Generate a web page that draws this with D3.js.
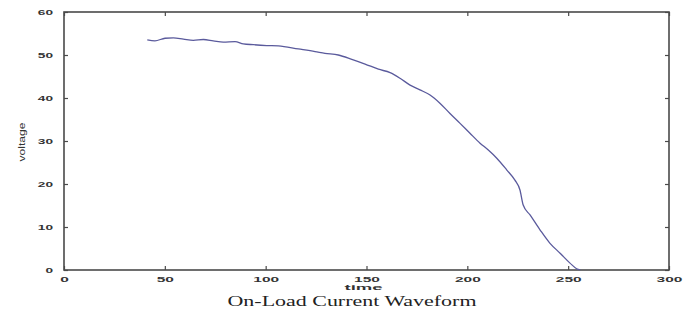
<!DOCTYPE html>
<html>
<head>
<meta charset="utf-8">
<script src="https://cdn.jsdelivr.net/npm/d3@7/dist/d3.min.js"></script>
<style>
  html, body { margin: 0; padding: 0; background: #fff; }
  svg { display: block; }
</style>
</head>
<body>
<svg id="chart" width="699" height="328"></svg>
<script>
// Measured waveform: time samples and voltage readings
const timeValues = [41.3, 45.1, 50.1, 54.2, 59.2, 64.1, 69.1, 74.0, 79.0, 84.8,
  88.9, 93.9, 100.5, 106.3, 116.2, 124.5, 129.4, 136.0, 142.7, 149.3, 155.9,
  161.7, 166.6, 171.6, 176.5, 181.5, 186.4, 191.4, 196.4, 201.3, 206.3, 210.4,
  214.6, 219.5, 223.6, 226.1, 227.7, 231.1, 236.1, 241.0, 246.0, 250.9, 254.2, 256.0];
const voltageValues = [53.5, 53.3, 53.9, 54.0, 53.7, 53.4, 53.6, 53.3, 53.0, 53.1,
  52.6, 52.4, 52.2, 52.1, 51.4, 50.8, 50.4, 50.0, 49.0, 47.9, 46.7,
  45.9, 44.6, 43.0, 41.9, 40.7, 38.8, 36.4, 34.1, 31.8, 29.5, 27.9,
  26.0, 23.3, 20.9, 18.6, 15.1, 12.8, 9.3, 6.2, 3.9, 1.6, 0.3, 0];

const xTicks = [0, 50, 100, 150, 200, 250, 300];
const yTicks = [0, 10, 20, 30, 40, 50, 60];

const xLabel = "time";
const yLabel = "voltage";
const caption = "On-Load Current Waveform";

const svg = d3.select("#chart");
const plotLeft = 64, plotRight = 669, plotTop = 12, plotBottom = 270;

const x = d3.scaleLinear().domain([0, 300]).range([plotLeft, plotRight]);
const y = d3.scaleLinear().domain([0, 60]).range([plotBottom, plotTop]);

const axisColor = "#4a4a4a";
const tickFont = "Arial, 'Liberation Sans', sans-serif";

// Frame around the plotting area
svg.append("rect")
  .attr("x", plotLeft).attr("y", plotTop)
  .attr("width", plotRight - plotLeft).attr("height", plotBottom - plotTop)
  .attr("fill", "none").attr("stroke", axisColor).attr("stroke-width", 1.6);

// Inward ticks on all four sides
const tickLen = 4;
function styleAxis(g) {
  g.select(".domain").remove();
  g.selectAll(".tick line").attr("stroke", axisColor).attr("stroke-width", 1.2);
}

const gxB = svg.append("g").attr("transform", `translate(0,${plotBottom})`)
  .call(d3.axisBottom(x).tickValues(xTicks).tickSizeInner(-tickLen).tickSizeOuter(0).tickPadding(0).tickFormat(d3.format("d")));
styleAxis(gxB);
gxB.selectAll(".tick text")
  .attr("y", 12).attr("dy", 0)
  .attr("font-family", tickFont).attr("font-weight", "bold").attr("font-size", 8)
  .attr("fill", "#333")
  .attr("textLength", d => String(d).length * 8.6)
  .attr("lengthAdjust", "spacingAndGlyphs");

const gxT = svg.append("g").attr("transform", `translate(0,${plotTop})`)
  .call(d3.axisTop(x).tickValues(xTicks).tickSizeInner(-tickLen).tickSizeOuter(0).tickFormat(""));
styleAxis(gxT);

const gyL = svg.append("g").attr("transform", `translate(${plotLeft},0)`)
  .call(d3.axisLeft(y).tickValues(yTicks).tickSizeInner(-tickLen).tickSizeOuter(0).tickPadding(0).tickFormat(d3.format("d")));
styleAxis(gyL);
gyL.selectAll(".tick text")
  .attr("x", -11).attr("dy", "0.36em")
  .attr("text-anchor", "end")
  .attr("font-family", tickFont).attr("font-weight", "bold").attr("font-size", 8)
  .attr("fill", "#333")
  .attr("textLength", d => String(d).length * 7.6)
  .attr("lengthAdjust", "spacingAndGlyphs");

const gyR = svg.append("g").attr("transform", `translate(${plotRight},0)`)
  .call(d3.axisRight(y).tickValues(yTicks).tickSizeInner(-tickLen).tickSizeOuter(0).tickFormat(""));
styleAxis(gyR);

// Voltage curve
const pts = timeValues.map((t, i) => [t, voltageValues[i]]);
svg.append("path")
  .datum(pts)
  .attr("fill", "none")
  .attr("stroke", "#5a5a9c")
  .attr("stroke-width", 1.3)
  .attr("stroke-linejoin", "round")
  .attr("d", d3.line().x(d => x(d[0])).y(d => y(d[1])).curve(d3.curveMonotoneX));

// Axis titles
svg.append("text")
  .attr("x", x(150) - 3).attr("y", 290)
  .attr("text-anchor", "middle")
  .attr("font-family", tickFont).attr("font-weight", "bold").attr("font-size", 8)
  .attr("fill", "#333")
  .attr("textLength", 38).attr("lengthAdjust", "spacingAndGlyphs")
  .text(xLabel);

svg.append("text")
  .attr("transform", `translate(25,142) rotate(-90)`)
  .attr("text-anchor", "middle")
  .attr("font-family", tickFont).attr("font-size", 9)
  .attr("fill", "#333")
  .attr("textLength", 39).attr("lengthAdjust", "spacingAndGlyphs")
  .text(yLabel);

// Figure caption
svg.append("text")
  .attr("x", 352).attr("y", 306)
  .attr("text-anchor", "middle")
  .attr("font-family", "'Liberation Serif', 'Times New Roman', serif")
  .attr("font-size", 15.5).attr("fill", "#222")
  .attr("textLength", 249).attr("lengthAdjust", "spacingAndGlyphs")
  .text(caption);
</script>
</body>
</html>
